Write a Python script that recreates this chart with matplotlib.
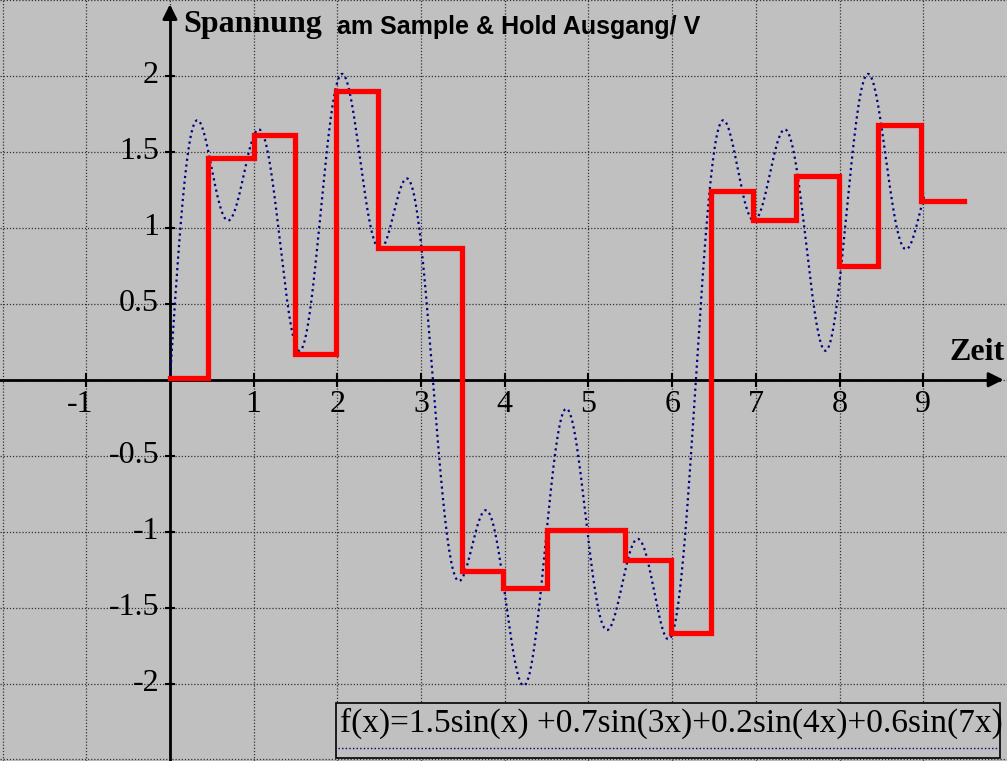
import numpy as np
import matplotlib
matplotlib.use("Agg")
import matplotlib.pyplot as plt

# f(x) = sum(amp * sin(freq * x)), coefficients as printed on the chart
amplitudes = [1.5, 0.7, 0.2, 0.6]
frequencies = [1, 3, 4, 7]
x_start, x_end = 0.0, 9.02

# sample & hold output
hold_edges = [0.0, 0.45, 1.0, 1.5, 1.98, 2.49, 3.49, 3.98, 4.51, 5.44, 5.99,
              6.46, 6.96, 7.48, 7.99, 8.46, 8.97, 9.49]
hold_levels = [0.01, 1.46, 1.61, 0.17, 1.90, 0.87, -1.26, -1.37, -0.99, -1.19,
               -1.67, 1.24, 1.05, 1.34, 0.75, 1.68, 1.18]

x_ticks = [-1, 1, 2, 3, 4, 5, 6, 7, 8, 9]
y_ticks = [-2, -1.5, -1, -0.5, 0.5, 1, 1.5, 2]
y_tick_labels = ["-2", "-1.5", "-1", "-0.5", "0.5", "1", "1.5", "2"]

serif = ["Liberation Serif", "DejaVu Serif"]
sans = ["Liberation Sans", "DejaVu Sans"]

fig = plt.figure(figsize=(10.07, 7.61), dpi=100)
fig.patch.set_facecolor("#c0c0c0")
ax = fig.add_axes([0, 0, 1, 1])
ax.set_facecolor("#c0c0c0")
ax.set_xlim(-2.03, 10.0)
ax.set_ylim(-2.51, 2.5)
ax.axis("off")

# grid
for gx in range(-2, 10):
    ax.axvline(gx, color="#333333", lw=0.9, ls=(0, (1, 1.5)), zorder=1)
for gy in np.arange(-2.5, 2.51, 0.5):
    ax.axhline(gy, color="#333333", lw=0.9, ls=(0, (1, 1.5)), zorder=1)

# axes with arrows
ax.plot([-2.03, 9.9], [0, 0], color="black", lw=2, zorder=3)
ax.plot([0, 0], [-2.51, 2.42], color="black", lw=2, zorder=3)
ax.annotate("", xy=(9.99, 0), xytext=(9.8, 0),
            arrowprops=dict(arrowstyle="-|>", color="black", lw=2,
                            mutation_scale=22), zorder=4)
ax.annotate("", xy=(0, 2.49), xytext=(0, 2.35),
            arrowprops=dict(arrowstyle="-|>", color="black", lw=2,
                            mutation_scale=22), zorder=4)
ax.vlines(x_ticks, -0.045, 0.045, color="black", lw=1.5, zorder=3)
ax.hlines(y_ticks, -0.06, 0.06, color="black", lw=1.5, zorder=3)

for xt in x_ticks:
    if xt < 0:
        ax.text(xt + 0.08, -0.07, str(xt), ha="right", va="top",
                fontsize=23, family=serif)
    else:
        ax.text(xt, -0.07, str(xt), ha="center", va="top",
                fontsize=23, family=serif)
for yt, lab in zip(y_ticks, y_tick_labels):
    ax.text(-0.13, yt, lab, ha="right", va="center", fontsize=23, family=serif)

# signal
xs = np.linspace(x_start, x_end, 2000)
ys = sum(a * np.sin(w * xs) for a, w in zip(amplitudes, frequencies))
ax.plot(xs, ys, color="#000080", lw=1.6, ls=(0, (1, 1.6)), zorder=5)

# sample & hold steps
sx, sy = [], []
for i, lev in enumerate(hold_levels):
    sx += [hold_edges[i], hold_edges[i + 1]]
    sy += [lev, lev]
ax.plot(sx, sy, color="red", lw=3.8, solid_joinstyle="miter", zorder=6)

# titles
ax.text(0.16, 2.34, "Spannung", fontsize=23, fontweight="bold", family=serif,
        va="center", ha="left")
ax.text(2.0, 2.32, "am Sample & Hold Ausgang/ V", fontsize=18,
        fontweight="bold", family=sans, va="center", ha="left")
ax.text(9.97, 0.18, "Zeit", fontsize=23, fontweight="bold", family=serif,
        va="center", ha="right")

# formula box
box = plt.Rectangle((0.3337, 0.004), 0.6593, 0.0722, transform=ax.transAxes,
                    facecolor="#c0c0c0", edgecolor="black", lw=1.2, zorder=7)
ax.add_patch(box)
ax.text(0.3375, 0.049, "f(x)=1.5sin(x) +0.7sin(3x)+0.2sin(4x)+0.6sin(7x)",
        transform=ax.transAxes, fontsize=24, family=serif, ha="left",
        va="center", zorder=8)
ax.plot([0.336, 0.991], [0.017, 0.017], transform=ax.transAxes,
        color="#000080", lw=1.0, ls=(0, (1, 1.6)), zorder=8)

fig.savefig("out.png", dpi=100, facecolor=fig.get_facecolor())
